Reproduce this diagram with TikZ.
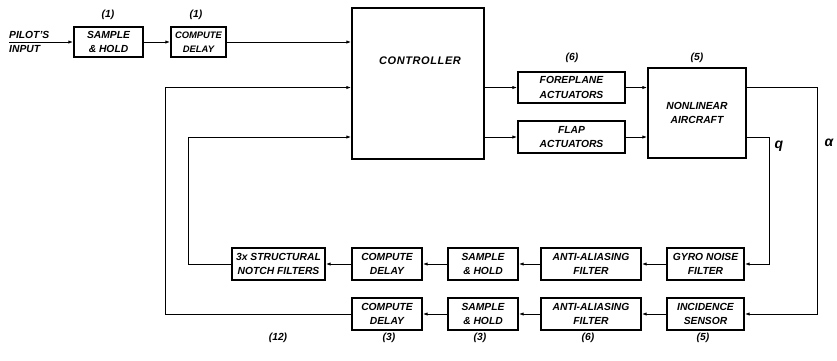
\documentclass[tikz,border=0pt]{standalone}
\usepackage{fontspec}
\setmainfont{Liberation Sans}
\usetikzlibrary{arrows.meta}
\newcommand\lettering{\fontsize{10.3}{14.5}\selectfont\bfseries\itshape}
\newcommand\smalllettering{\fontsize{9.4}{14}\selectfont\bfseries\itshape}
\begin{document}
\begin{tikzpicture}[x=1pt,y=-1pt,
  blk/.style={draw, line width=1.1pt, inner sep=0pt, align=center, font=\lettering},
  row/.style={blk, minimum height=32pt},
  lab/.style={font=\lettering, inner sep=0pt},
  wire/.style={line width=1pt},
  flow/.style={wire, -{Latex[length=5pt,width=3.2pt]}}
]
\useasboundingbox (0,0) rectangle (837,360);

% forward path
\node[blk, minimum width=69pt, minimum height=30pt] (sh1) at (108.5,42) {SAMPLE\\\& HOLD};
\node[blk, minimum width=55pt, minimum height=30pt, font=\smalllettering] (cd1) at (198.5,42) {COMPUTE\\DELAY};
\node[blk, minimum width=132pt, minimum height=151pt] (ctrl) at (418,83.5) {};
\node[lab, font=\fontsize{11}{12}\selectfont\bfseries\itshape] at (420,61) {C\kern0.6pt O\kern0.6pt N\kern0.6pt T\kern0.6pt R\kern0.6pt O\kern0.6pt L\kern0.6pt L\kern0.6pt E\kern0.6pt R};
\node[blk, minimum width=107pt, minimum height=31pt] (fore) at (571.5,87.5) {FOREPLANE\\ACTUATORS};
\node[blk, minimum width=107pt, minimum height=32pt] (flap) at (571.5,137) {FLAP\\ACTUATORS};
\node[blk, minimum width=98pt, minimum height=90pt] (ac) at (697,113) {NONLINEAR\\AIRCRAFT};

% pitch-rate feedback row
\node[row, minimum width=77pt] (gyro) at (705.5,264) {GYRO NOISE\\FILTER};
\node[row, minimum width=100pt] (aa1) at (591,264) {ANTI-ALIASING\\FILTER};
\node[row, minimum width=70pt] (sh2) at (483,264) {SAMPLE\\\& HOLD};
\node[row, minimum width=70pt] (cd2) at (387,264) {COMPUTE\\DELAY};
\node[row, minimum width=93pt] (notch) at (278.5,264) {3x STRUCTURAL\\NOTCH FILTERS};

% incidence feedback row
\node[row, minimum width=77pt] (inc) at (705.5,314) {INCIDENCE\\SENSOR};
\node[row, minimum width=100pt] (aa2) at (591,314) {ANTI-ALIASING\\FILTER};
\node[row, minimum width=70pt] (sh3) at (483,314) {SAMPLE\\\& HOLD};
\node[row, minimum width=70pt] (cd3) at (387,314) {COMPUTE\\DELAY};

% order labels
\node[lab] at (108,15) {(1)};
\node[lab] at (196,15) {(1)};
\node[lab] at (572,58) {(6)};
\node[lab] at (697,58) {(5)};
\node[lab] at (278,338) {(12)};
\node[lab] at (389,338) {(3)};
\node[lab] at (480,338) {(3)};
\node[lab] at (588,338) {(6)};
\node[lab] at (703,338) {(5)};

% pilot input
\node[lab, anchor=south west] (pilot) at (9,39) {PILOT'S};
\node[lab, anchor=north west] (pinput) at (9,45) {INPUT};
\coordinate (pin) at (9,42);
\draw[flow] (pin) -- (sh1.west);
\draw[flow] (sh1.east) -- (cd1.west);
\draw[flow] (cd1.east) -- (cd1.east -| ctrl.west);

% actuators
\draw[flow] (ctrl.east |- fore.west) -- (fore.west);
\draw[flow] (ctrl.east |- flap.west) -- (flap.west);
\draw[flow] (fore.east) -- (fore.east -| ac.west);
\draw[flow] (flap.east) -- (flap.east -| ac.west);

% aircraft outputs
\coordinate (qx) at (769,137);
\coordinate (ax) at (817,87.5);
\draw[flow] (ac.east |- qx) -- (qx) |- (gyro.east);
\draw[flow] (ac.east |- ax) -- (ax) |- (inc.east);
\node[lab, font=\fontsize{14}{14}\selectfont\bfseries\itshape] at (779,146) {q};
\node[lab, font=\fontsize{14}{14}\selectfont\bfseries\itshape] at (829,143) {α};

% feedback chains
\draw[flow] (gyro.west) -- (aa1.east);
\draw[flow] (aa1.west) -- (sh2.east);
\draw[flow] (sh2.west) -- (cd2.east);
\draw[flow] (cd2.west) -- (notch.east);
\draw[flow] (inc.west) -- (aa2.east);
\draw[flow] (aa2.west) -- (sh3.east);
\draw[flow] (sh3.west) -- (cd3.east);

% return paths into the controller
\coordinate (ri) at (188,137);
\coordinate (ro) at (165,87.5);
\draw[flow] (notch.west) -| (ri) -- (ri -| ctrl.west);
\draw[flow] (cd3.west) -| (ro) -- (ro -| ctrl.west);
\end{tikzpicture}
\end{document}
